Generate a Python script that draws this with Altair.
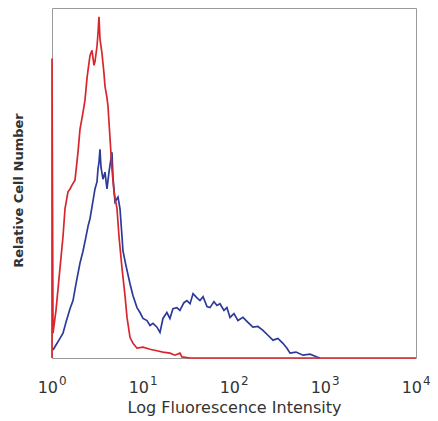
import altair as alt
import pandas as pd

# Red histogram (isotype control): fluorescence intensity, relative count
red_x = [1.0, 1.0, 1.026, 1.106, 1.224, 1.321, 1.390, 1.499, 1.577, 1.659, 1.789, 1.930,
         2.030, 2.190, 2.305, 2.424, 2.486, 2.615, 2.751, 2.893, 2.967, 3.121, 3.201,
         3.283, 3.367, 3.542, 3.725, 3.821, 4.019, 4.122, 4.336, 4.560, 4.797, 5.179,
         5.448, 5.878, 6.343, 6.672, 7.197, 7.768, 8.587, 10.0, 11.93, 14.61, 16.57,
         19.77, 22.43, 25.44, 26.8, 32.9, 10000]
red_y = [0, 85.6, 7.1, 13.6, 25.7, 34.7, 42.7, 47.5, 48.3, 49.4, 50.8, 58.8,
         65.3, 70.1, 73.7, 79.9, 82.2, 86.4, 87.9, 83.6, 84.7, 89.0, 92.7,
         97.5, 91.2, 87.0, 81.4, 77.7, 74.3, 72.0, 63.0, 54.0, 47.5, 42.7,
         34.7, 25.7, 17.8, 11.6, 5.9, 4.2, 2.8, 3.1, 2.5, 2.0, 1.7,
         1.4, 0.8, 1.4, 0.3, 0, 0]

# Blue histogram (stained sample)
blue_x = [1.026, 1.106, 1.224, 1.321, 1.425, 1.577, 1.702, 1.835, 2.030, 2.190, 2.364,
          2.486, 2.615, 2.751, 2.967, 3.121, 3.201, 3.283, 3.367, 3.453, 3.632, 3.821,
          4.019, 4.227, 4.560, 4.678, 4.920, 5.311, 5.585, 5.878, 6.030, 6.508, 7.197,
          7.768, 8.587, 9.268, 10.0, 11.06, 11.93, 12.88, 14.24, 15.37, 16.57, 18.30,
          19.77, 21.34, 23.56, 25.44, 28.18, 30.40, 32.9, 35.5, 39.2, 42.3, 45.7, 50.5,
          54.5, 60.2, 65.0, 70.1, 77.5, 83.6, 90.3, 100, 110.5, 125.5, 142.2, 161.4,
          183.2, 208, 236, 268, 304, 345, 382, 413, 480, 574, 685, 818, 883]
blue_y = [2.3, 3.7, 5.6, 7.1, 10.2, 14.1, 16.4, 21.2, 27.1, 30.5, 34.7,
          37.6, 39.8, 43.2, 48.3, 50.3, 54.0, 55.9, 59.6, 54.5, 51.1, 53.1,
          48.3, 53.1, 58.8, 51.7, 44.6, 46.0, 42.7, 34.7, 30.5, 26.3, 21.2,
          17.8, 14.4, 13.0, 11.3, 10.7, 9.3, 9.9, 8.8, 7.3, 11.3, 13.0,
          11.3, 14.1, 14.4, 13.6, 15.8, 16.4, 15.5, 18.4, 17.2, 16.4, 17.5, 14.7,
          14.4, 16.1, 15.0, 15.5, 13.6, 14.4, 11.6, 12.7, 10.7, 11.6, 10.2, 8.8,
          9.0, 7.9, 6.5, 5.1, 5.6, 4.2, 2.8, 1.4, 1.7, 0.8, 1.1, 0.3, 0]

tick_values = [1, 10, 100, 1000, 10000]
tick_exponents = ["0", "1", "2", "3", "4"]

rows = []
for i, (x, y) in enumerate(zip(blue_x, blue_y)):
    rows.append({"x": x, "y": y, "s": "blue", "i": i})
for i, (x, y) in enumerate(zip(red_x, red_y)):
    rows.append({"x": x, "y": y, "s": "red", "i": i})
df = pd.DataFrame(rows)

ticks_df = pd.DataFrame({"v": tick_values, "e": tick_exponents})

xscale = alt.Scale(type="log", domain=[1, 10000], nice=False)

lines = alt.Chart(df).mark_line(strokeWidth=1.7).encode(
    x=alt.X("x:Q", scale=xscale,
            axis=alt.Axis(values=tick_values, domain=False, ticks=False, grid=False,
                          labels=False,
                          title="Log Fluorescence Intensity", titleFontSize=16,
                          titleFontWeight="normal", titleColor="#333",
                          titleFont="DejaVu Sans", titlePadding=41)),
    y=alt.Y("y:Q", scale=alt.Scale(domain=[0, 100]),
            axis=alt.Axis(labels=False, ticks=False, domain=False, grid=False,
                          title="Relative Cell Number", titleFontSize=13,
                          titleFontWeight="bold", titleColor="#333",
                          titleFont="DejaVu Sans", titlePadding=27, titleY=182)),
    color=alt.Color("s:N", scale=alt.Scale(domain=["blue", "red"],
                                           range=["#2c3a98", "#d8262c"]), legend=None),
    order="i:Q",
    detail="s:N",
)

base_labels = alt.Chart(ticks_df).mark_text(
    text="10", align="right", baseline="alphabetic", dx=6, fontSize=16,
    font="DejaVu Sans", color="#333"
).encode(x=alt.X("v:Q", scale=xscale), y=alt.value(385))

exp_labels = alt.Chart(ticks_df).mark_text(
    align="left", baseline="alphabetic", dx=7, fontSize=12,
    font="DejaVu Sans", color="#333"
).encode(x=alt.X("v:Q", scale=xscale), y=alt.value(377), text="e:N")

chart = alt.layer(lines, base_labels, exp_labels).properties(
    width=364, height=350,
    autosize=alt.AutoSizeParams(type="none"),
    padding={"left": 44, "top": 0, "right": 14, "bottom": 63},
).configure_view(stroke="#999", strokeWidth=1)

chart.save("out.html", embed_options={"renderer": "svg", "actions": False})
